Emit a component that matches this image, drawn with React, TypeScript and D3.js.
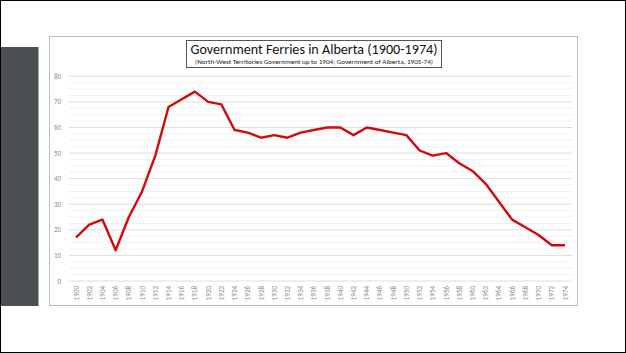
import React from "react";
import * as d3 from "d3";

const years = d3.range(1900, 1975, 2);
const ferries = [17, 22, 24, 12, 25, 35, 49, 68, 71, 74, 70, 69, 59, 58, 56, 57, 56, 58, 59, 60, 60, 57, 60, 59, 58, 57, 51, 49, 50, 46, 43, 38, 31, 24, 21, 18, 14, 14];
const yTicks = [0, 10, 20, 30, 40, 50, 60, 70, 80];
const minorTicks = d3.range(0, 80.1, 2.5);
const title = "Government  Ferries in Alberta (1900-1974)";
const subtitle = "(North-West Territories Government up to 1904; Government of Alberta, 1905-74)";

export default function App() {
  const W = 626, H = 353;
  const x = d3.scalePoint<number>().domain(years).range([76, 565]);
  const y = d3.scaleLinear().domain([0, 80]).range([281, 76.3]);
  const line = d3.line<number>().x((_, i) => x(years[i])!).y((d) => y(d));
  const font = "Carlito, Calibri, 'Open Sans', 'Liberation Sans', sans-serif";
  return (
    <svg width={W} height={H} style={{ position: "absolute", left: 0, top: 0, background: "#fff" }} fontFamily={font}>
      <rect x={0.5} y={0.5} width={W - 1} height={H - 1} fill="#fff" stroke="#000" strokeWidth={1} />
      <rect x={1} y={47} width={37.5} height={259} fill="#4b5053" />
      <rect x={49.5} y={36.5} width={528} height={269} fill="#fff" stroke="#bdbdbd" strokeWidth={1} />
      {minorTicks.map((t) => (
        <line key={"m" + t} x1={69} x2={572} y1={y(t)} y2={y(t)} stroke={t % 10 === 0 ? "#dedede" : "#f1f1f1"} strokeWidth={1} />
      ))}
      {yTicks.map((t) => (
        <text key={"y" + t} x={61} y={y(t) + 2.5} fontSize={7} fill="#8c8c8c" textAnchor="end">{t}</text>
      ))}
      {years.map((yr) => (
        <text key={"x" + yr} transform={`translate(${x(yr)! + 2.5},${286}) rotate(-90)`} fontSize={7} fill="#8c8c8c" textAnchor="end">{yr}</text>
      ))}
      <path d={line(ferries) || ""} fill="none" stroke="#d10a0a" strokeWidth={2.4} strokeLinejoin="round" />
      <rect x={186.5} y={40.5} width={255} height={27} fill="#fff" stroke="#555" strokeWidth={1} />
      <text x={314} y={54} fontSize={14.3} textAnchor="middle" fill="#111" textLength={247} lengthAdjust="spacingAndGlyphs">{title}</text>
      <text x={314} y={64} fontSize={6} textAnchor="middle" fill="#222" textLength={238} lengthAdjust="spacingAndGlyphs">{subtitle}</text>
    </svg>
  );
}
